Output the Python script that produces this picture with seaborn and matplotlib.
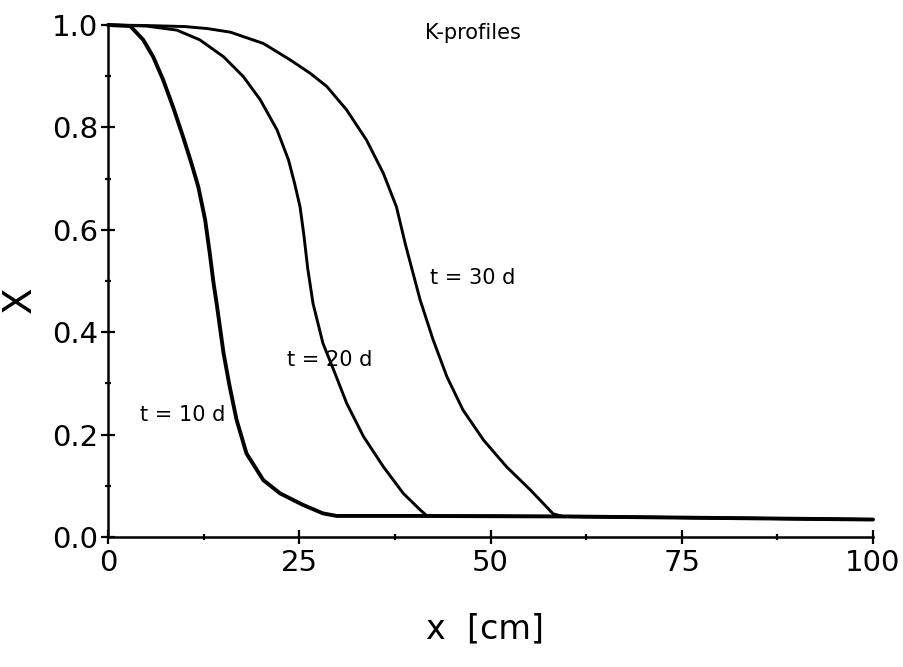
import numpy as np
import pandas as pd
import matplotlib
matplotlib.use("Agg")
import matplotlib.pyplot as plt
import seaborn as sns
from matplotlib.ticker import MultipleLocator

# ---- data ----
x10 = [0, 2.9, 4.6, 5.9, 7.2, 8.5, 9.8, 10.9, 11.8, 12.7, 13.3, 13.8, 14.2, 15.1, 15.9, 16.8,
       18.1, 20.3, 22.5, 25.5, 28.1, 29.9, 40, 60, 80, 100]
y10 = [1.0, 0.998, 0.971, 0.938, 0.893, 0.840, 0.782, 0.730, 0.684, 0.619, 0.554, 0.495, 0.456,
       0.359, 0.294, 0.229, 0.163, 0.111, 0.085, 0.0625, 0.046, 0.041, 0.041, 0.040, 0.037, 0.034]

x20 = [0, 5, 9.0, 12.0, 15.1, 17.7, 19.9, 22.1, 23.6, 24.4, 25.1, 25.6, 26.1, 26.8, 28.1, 29.5,
       31.2, 33.4, 36.0, 38.6, 40.8, 41.7, 50, 70, 100]
y20 = [1.0, 0.998, 0.990, 0.971, 0.938, 0.899, 0.854, 0.795, 0.736, 0.690, 0.645, 0.590, 0.525,
       0.456, 0.378, 0.326, 0.261, 0.196, 0.137, 0.085, 0.053, 0.041, 0.041, 0.0385, 0.034]

x30 = [0, 5, 10, 13, 16.0, 20.3, 23.8, 26.4, 28.6, 31.2, 33.8, 36.0, 37.7, 38.9, 40.8, 42.5, 44.3,
       46.4, 49.1, 52.1, 55.2, 57.3, 58.2, 59.5, 80, 100]
y30 = [1.0, 0.999, 0.997, 0.993, 0.986, 0.964, 0.932, 0.906, 0.880, 0.834, 0.775, 0.710, 0.645,
       0.570, 0.463, 0.385, 0.313, 0.248, 0.189, 0.137, 0.092, 0.059, 0.045, 0.040, 0.037, 0.034]

curve_labels = ["t = 10 d", "t = 20 d", "t = 30 d"]
title_text = "K-profiles"
x_ticks = [0, 25, 50, 75, 100]
y_ticks = [0.0, 0.2, 0.4, 0.6, 0.8, 1.0]

sns.set_style("ticks")
plt.rcParams["font.family"] = ["DejaVu Sans"]
plt.rcParams["text.color"] = "black"
plt.rcParams["axes.labelcolor"] = "black"
plt.rcParams["xtick.color"] = "black"
plt.rcParams["ytick.color"] = "black"

fig = plt.figure(figsize=(9.04, 6.67), dpi=100)
ax = fig.add_axes([0.1195, 0.195, 0.8462, 0.7675])

for xs, ys, lw in [(x10, y10, 2.8), (x20, y20, 2.1), (x30, y30, 2.1)]:
    df = pd.DataFrame({"x": xs, "y": ys})
    sns.lineplot(data=df, x="x", y="y", ax=ax, color="black", linewidth=lw,
                 estimator=None, sort=False, clip_on=False)

ax.set_xlim(0, 100)
ax.set_ylim(0, 1.0)
ax.set_xticks(x_ticks)
ax.set_yticks(y_ticks)
ax.set_xticklabels([str(v) for v in x_ticks])
ax.set_yticklabels([f"{v:.1f}" for v in y_ticks])
ax.xaxis.set_minor_locator(MultipleLocator(12.5))
ax.yaxis.set_minor_locator(MultipleLocator(0.1))

for s in ["top", "right"]:
    ax.spines[s].set_visible(False)
for s in ["left", "bottom"]:
    ax.spines[s].set_linewidth(1.8)
    ax.spines[s].set_color("black")

ax.tick_params(axis="both", which="major", direction="inout", length=10, width=1.6,
               labelsize=21, pad=2)
ax.tick_params(axis="both", which="minor", direction="inout", length=5, width=1.6)
ax.tick_params(axis="x", which="major", pad=4)

ax.set_xlabel("x  [cm]", fontsize=24)
ax.set_ylabel("X", fontsize=28)
ax.xaxis.set_label_coords(0.493, -0.18)
ax.yaxis.set_label_coords(-0.115, 0.463)
ax.xaxis.label.set_va("center")
ax.yaxis.label.set_va("center")

ax.text(4.2, 0.238, curve_labels[0], fontsize=15, va="center", ha="left")
ax.text(23.4, 0.346, curve_labels[1], fontsize=15, va="center", ha="left")
ax.text(42.1, 0.506, curve_labels[2], fontsize=15, va="center", ha="left")
ax.text(41.4, 0.984, title_text, fontsize=15, va="center", ha="left")

fig.savefig("out.png", dpi=100, facecolor="white")
